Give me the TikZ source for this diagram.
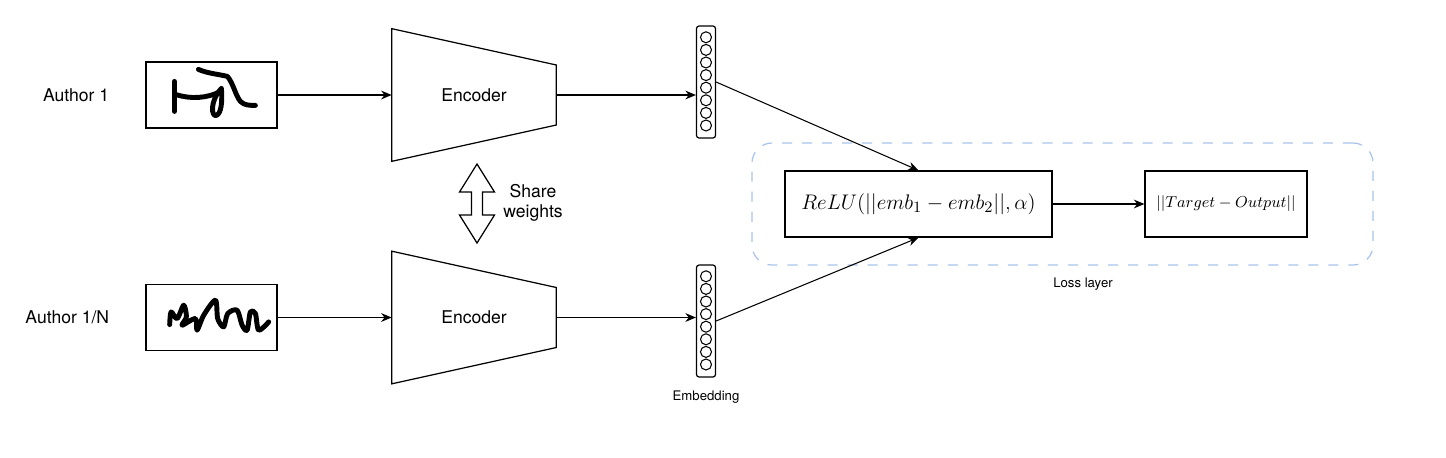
\documentclass[tikz,border=0pt]{standalone}
\usepackage[no-math]{fontspec}
\setmainfont{TeX Gyre Heros}
\usetikzlibrary{arrows.meta,positioning,calc}
\definecolor{lossblue}{RGB}{169,196,235}
\begin{document}
\begin{tikzpicture}[>={Stealth[length=6pt,width=5pt]},
   box/.style = {draw, line width=0.7pt, minimum width=2.62cm, minimum height=1.32cm},
   encbox/.style = {minimum width=3.28cm, minimum height=2.64cm, font=\fontsize{10}{12}\selectfont},
   embcol/.style = {draw, line width=0.7pt, rounded corners=1.5pt, minimum width=0.38cm, minimum height=2.24cm},
   pen/.style = {line width=2.8pt, line cap=round, line join=round},
   lbl/.style = {font=\fontsize{10}{11.5}\selectfont},
   small/.style = {font=\fontsize{7.5}{9}\selectfont}]
   \useasboundingbox (0,0) rectangle (28.92,-9.14);
   \node[box] (img1) at (4.23,-1.9) {};
   \node[box] (img2) at (4.23,-6.35) {};
   \node[lbl, left=0.6cm of img1] (auth1) {Author 1};
   \node[lbl, left=0.6cm of img2] (auth2) {Author 1/N};
   \node[encbox] (enc1) at (9.48,-1.9) {Encoder};
   \node[encbox] (enc2) at (9.48,-6.35) {Encoder};
   \foreach \e in {enc1,enc2}
      \draw[line width=0.7pt] (\e.north west) -- ($(\e.east)+(0,0.6)$) -- ($(\e.east)+(0,-0.6)$) -- (\e.south west) -- cycle;
   \node[embcol] (emb1) at (14.12,-1.64) {};
   \node[embcol] (emb2) at (14.12,-6.42) {};
   \foreach \e in {emb1,emb2}
      \foreach \i in {0,...,7}
         \draw[line width=0.6pt] ($(\e.north)+(0,-0.238-\i*0.252)$) circle (0.11);
   \node[small, below=0.15cm of emb2] (emblbl) {Embedding};
   \node[draw=lossblue, dash pattern=on 5.7pt off 5.7pt, rounded corners=0.4cm, line width=0.7pt,
         minimum width=12.42cm, minimum height=2.44cm] (loss) at (21.25,-4.08) {};
   \node[small] (losslbl) at (21.66,-5.68) {Loss layer};
   \node[draw, line width=0.7pt, minimum width=5.34cm, minimum height=1.32cm, font=\fontsize{13}{15}\selectfont]
      (relu) at (18.37,-4.08) {$ReLU(||emb_1 - emb_2||, \alpha)$};
   \node[draw, line width=0.7pt, minimum width=3.24cm, minimum height=1.32cm, font=\fontsize{9.5}{11}\selectfont]
      (target) at (24.52,-4.08) {$||Target - Output||$};
   \draw[line width=0.7pt] (9.54,-3.28) -- (9.89,-3.84) -- (9.65,-3.84) -- (9.65,-4.30) -- (9.89,-4.30)
      -- (9.54,-4.86) -- (9.19,-4.30) -- (9.43,-4.30) -- (9.43,-3.84) -- (9.19,-3.84) -- cycle;
   \node[lbl, align=center] (share) at (10.66,-4.06) {Share\\weights};
   \draw[->, line width=0.6pt] (img1) -- (enc1);
   \draw[->, line width=0.6pt] (img2) -- (enc2);
   \draw[->, line width=0.6pt] (enc1.east) -- (enc1.east -| emb1.west);
   \draw[->, line width=0.6pt] (enc2.east) -- (enc2.east -| emb2.west);
   \draw[->, line width=0.6pt] (emb1.east) -- (relu.north);
   \draw[->, line width=0.6pt] (emb2.east) -- (relu.south);
   \draw[->, line width=0.6pt] (relu) -- (target);
   \begin{scope}[shift={(img1.north west)}, x=0.02cm, y=-0.02cm]
      \draw[pen] (29,20) -- (29,50);
      \draw[pen] (30,33) .. controls (45,38) and (62,37) .. (75,30);
      \draw[pen] (76,27) .. controls (64,40) and (66,56) .. (71,54) .. controls (76,52) and (77,40) .. (76,27);
      \draw[pen] (53,8) .. controls (62,12) and (74,13) .. (82,15) .. controls (88,22) and (90,34) .. (95,40)
         .. controls (99,44) and (104,44) .. (110,44);
   \end{scope}
   \begin{scope}[shift={(img2.north west)}, x=0.02cm, y=-0.02cm]
      \draw[pen] plot[smooth, tension=0.5] coordinates {(24.3,40.7) (25.7,28) (31.7,34.7) (38.3,21.3) (41,33)
         (36.7,41.3) (50,34.7) (51.7,46.3) (58.3,31.3) (70,16.3) (72.3,34.7) (78.3,43) (82.3,29.7) (91.7,26.3)
         (96.7,41.3) (101.7,46.3) (105,28) (110,29.7) (113.3,46.3) (123.3,38)};
   \end{scope}
\end{tikzpicture}
\end{document}
